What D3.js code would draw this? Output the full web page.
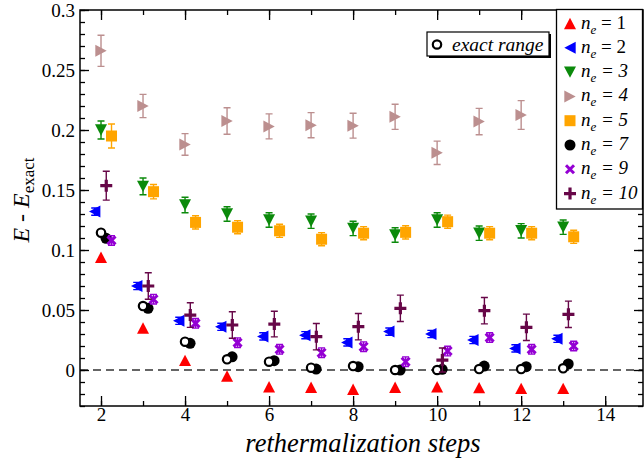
<!DOCTYPE html>
<html><head><meta charset="utf-8">
<script src="https://cdn.jsdelivr.net/npm/d3@7"></script>
<style>body{margin:0;background:#fff}svg{display:block}</style>
</head><body>
<svg id="c" width="644" height="461"></svg>
<script>
const steps = [2,3,4,5,6,7,8,9,10,11,12,13];
const stepsN4 = [2,3,4,5,6,7,8,9,10,11,12];
const n1 = [0.094,0.035,0.008,-0.005,-0.014,-0.0144,-0.016,-0.0144,-0.014,-0.0147,-0.0153,-0.0153];
const n2 = [0.132,0.070,0.041,0.036,0.028,0.029,0.023,0.032,0.030,0.025,0.018,0.026];
const n2err = [0.003,0.003,0.003,0.003,0.003,0.003,0.003,0.003,0.003,0.003,0.003,0.003];
const n3 = [0.200,0.153,0.1375,0.130,0.125,0.124,0.118,0.1125,0.125,0.114,0.116,0.119];
const n3err = [0.0075,0.007,0.0065,0.006,0.006,0.006,0.006,0.006,0.006,0.006,0.006,0.006];
const n4 = [0.266,0.220,0.188,0.2075,0.203,0.204,0.2036,0.211,0.181,0.207,0.2125];
const n4err = [0.013,0.0097,0.009,0.011,0.0104,0.0105,0.0104,0.0105,0.0097,0.011,0.012];
const n5 = [0.195,0.1486,0.123,0.119,0.116,0.109,0.114,0.1147,0.1236,0.114,0.114,0.111];
const n5err = [0.01,0.006,0.0055,0.0055,0.0055,0.0055,0.0055,0.0055,0.0055,0.0055,0.0055,0.0055];
const n7 = [0.1097,0.0514,0.0222,0.011,0.0078,0.0008,0.0028,0.0,0.0006,0.0033,0.0028,0.005];
const exact = [0.1144,0.0533,0.0236,0.0089,0.0069,0.0019,0.0033,0.0,0.0,0.0008,0.0008,0.0014];
const n9 = [0.108,0.059,0.0389,0.0228,0.0172,0.0144,0.0194,0.0069,0.0158,0.027,0.0172,0.020];
const n9err = [0.004,0.004,0.004,0.004,0.004,0.004,0.004,0.004,0.004,0.004,0.004,0.004];
const n10 = [0.1536,0.070,0.0458,0.0375,0.0383,0.0278,0.0361,0.0514,0.0083,0.0494,0.0356,0.0464];
const n10err = [0.012,0.011,0.0103,0.011,0.0107,0.011,0.011,0.011,0.01,0.011,0.011,0.011];
const xTicks = [2,4,6,8,10,12,14];
const xTickLabels = ["2","4","6","8","10","12","14"];
const yTicks = [0,0.05,0.1,0.15,0.2,0.25,0.3];
const yTickLabels = ["0","0.05","0.1","0.15","0.2","0.25","0.3"];
const legendLabels = ["1","2","3","4","5","7","9","10"];

const FONT = "Liberation Serif";
const svg = d3.select("#c");
const L=80, R=643, T=10, B=406;
const x = d3.scaleLinear().domain([1.5,14.9]).range([L,R]);
const y = d3.scaleLinear().domain([-0.03,0.3]).range([B,T]);

svg.append("line").attr("x1",L).attr("x2",R).attr("y1",y(0)).attr("y2",y(0))
  .attr("stroke","#333").attr("stroke-width",1.5).attr("stroke-dasharray","8,5");

const minorX = d3.range(2,15,1);
const minorY = d3.range(-3,31,1).map(d=>d/100);
function ax(gen, tr){ const g=svg.append("g").attr("transform",tr).call(gen); g.attr("font-family",FONT); g.select(".domain").remove(); g.selectAll("line").attr("stroke","#000").attr("stroke-width",1.3); return g; }
ax(d3.axisBottom(x).tickValues(minorX).tickSize(-5).tickFormat(""), `translate(0,${B})`);
ax(d3.axisTop(x).tickValues(minorX).tickSize(-5).tickFormat(""), `translate(0,${T})`);
const gxb = ax(d3.axisBottom(x).tickValues(xTicks).tickSize(-10).tickPadding(1).tickFormat((d,i)=>xTickLabels[i]), `translate(0,${B})`);
ax(d3.axisTop(x).tickValues(xTicks).tickSize(-10).tickFormat(""), `translate(0,${T})`);
ax(d3.axisLeft(y).tickValues(minorY).tickSize(-5).tickFormat(""), `translate(${L},0)`);
ax(d3.axisRight(y).tickValues(minorY).tickSize(-5).tickFormat(""), `translate(${R},0)`);
const gyl = ax(d3.axisLeft(y).tickValues(yTicks).tickSize(-9).tickPadding(5).tickFormat((d,i)=>yTickLabels[i]), `translate(${L},0)`);
ax(d3.axisRight(y).tickValues(yTicks).tickSize(-9).tickFormat(""), `translate(${R},0)`);
svg.selectAll(".tick text").attr("font-family",FONT).attr("font-size",19).attr("fill","#000");
gxb.selectAll(".tick text").attr("dy","0.75em");
svg.append("rect").attr("x",L).attr("y",T).attr("width",R-L).attr("height",B-T)
  .attr("fill","none").attr("stroke","#000").attr("stroke-width",1.5);

function tri(dir, s){
  const h=s*0.95, w=s/2;
  if(dir==="up") return `M0,${-h/2}L${w},${h/2}L${-w},${h/2}Z`;
  if(dir==="down") return `M0,${h/2}L${w},${-h/2}L${-w},${-h/2}Z`;
  if(dir==="left") return `M${-h/2},0L${h/2},${-w}L${h/2},${w}Z`;
  return `M${h/2},0L${-h/2},${-w}L${-h/2},${w}Z`;
}
function drawMarker(g, type, color, cx, cy){
  if(type.startsWith("tri")) g.append("path").attr("d",tri(type.slice(3),12)).attr("transform",`translate(${cx},${cy})`).attr("fill",color);
  else if(type==="square") g.append("rect").attr("x",cx-5.5).attr("y",cy-5.5).attr("width",11).attr("height",11).attr("fill",color);
  else if(type==="circle") g.append("circle").attr("cx",cx).attr("cy",cy).attr("r",5.5).attr("fill",color);
  else if(type==="open") g.append("circle").attr("cx",cx).attr("cy",cy).attr("r",4.2).attr("fill","#fff").attr("stroke",color).attr("stroke-width",2.2);
  else if(type==="x") g.append("path").attr("d",`M${cx-4},${cy-4}L${cx+4},${cy+4}M${cx-4},${cy+4}L${cx+4},${cy-4}`).attr("stroke",color).attr("stroke-width",3);
  else if(type==="plus") g.append("path").attr("d",`M${cx-6},${cy}L${cx+6},${cy}M${cx},${cy-6}L${cx},${cy+6}`).attr("stroke",color).attr("stroke-width",3.2);
}
function errbar(g, color, cx, v, e){
  const y1=y(v+e), y2=y(v-e);
  g.append("path").attr("d",`M${cx},${y1}V${y2}M${cx-3.5},${y1}H${cx+3.5}M${cx-3.5},${y2}H${cx+3.5}`)
   .attr("stroke",color).attr("stroke-width",1.4).attr("fill","none");
}
const series = [
  {xs:stepsN4, v:n4, e:n4err, type:"triright", color:"#bc8f8f", off:0},
  {xs:steps, v:n3, e:n3err, type:"tridown", color:"#0b8a0b", off:0},
  {xs:steps, v:n5, e:n5err, type:"square", color:"#ffa500", off:0.25},
  {xs:steps, v:n1, e:null, type:"triup", color:"#ff0000", off:0},
  {xs:steps, v:n2, e:n2err, type:"trileft", color:"#0000ff", off:-0.15},
  {xs:steps, v:n7, e:null, type:"circle", color:"#000", off:0.12},
  {xs:steps, v:exact, e:null, type:"open", color:"#000", off:0},
  {xs:steps, v:n9, e:n9err, type:"x", color:"#9400d3", off:0.25},
  {xs:steps, v:n10, e:n10err, type:"plus", color:"#670748", off:0.125}
];
const gd = svg.append("g");
series.forEach(s=>{
  s.v.forEach((v,i)=>{
    const cx = x(s.xs[i]+s.off), cy=y(v);
    if(s.e) errbar(gd, s.color, cx, v, s.e[i]);
    drawMarker(gd, s.type, s.color, cx, cy);
  });
});

svg.append("rect").attr("x",429).attr("y",34).attr("width",122).attr("height",24).attr("fill","#000");
svg.append("rect").attr("x",427).attr("y",32).attr("width",122).attr("height",24).attr("fill","#fff").attr("stroke","#000").attr("stroke-width",1.2);
drawMarker(svg,"open","#000",437,44.5);
svg.append("text").attr("x",452).attr("y",50.5).attr("font-family",FONT).attr("font-size",19.5).attr("font-style","italic").text("exact range");

svg.append("rect").attr("x",556.5).attr("y",9.5).attr("width",86).attr("height",199.5).attr("fill","#fff").attr("stroke","#000").attr("stroke-width",1.3);
const legSeries = [
  {type:"triup",color:"#ff0000"},{type:"trileft",color:"#0000ff"},{type:"tridown",color:"#0b8a0b"},
  {type:"triright",color:"#bc8f8f"},{type:"square",color:"#ffa500"},{type:"circle",color:"#000"},
  {type:"x",color:"#9400d3"},{type:"plus",color:"#670748"}];
legSeries.forEach((s,i)=>{
  const cy = 23.5 + i*24.3;
  drawMarker(svg, s.type, s.color, 570, cy);
  const t = svg.append("text").attr("x",581).attr("y",cy+5).attr("font-family",FONT).attr("font-size",19);
  t.append("tspan").attr("font-style","italic").text("n");
  t.append("tspan").attr("font-style","italic").attr("font-size",13).attr("dy",5).text("e");
  t.append("tspan").attr("dy",-5).attr("font-style", i<2?"normal":"italic").text(" = "+legendLabels[i]);
});

svg.append("text").attr("x",363).attr("y",452).attr("text-anchor","middle").attr("font-family",FONT).attr("font-size",26.5).attr("font-style","italic").text("rethermalization steps");
const yt = svg.append("text").attr("transform","translate(29,200) rotate(-90)").attr("text-anchor","middle").attr("font-family",FONT).attr("font-size",24);
yt.append("tspan").attr("font-style","italic").text("E");
yt.append("tspan").text(" - ");
yt.append("tspan").attr("font-style","italic").text("E");
yt.append("tspan").attr("font-size",17).attr("dy",5).text("exact");
</script>
</body></html>
